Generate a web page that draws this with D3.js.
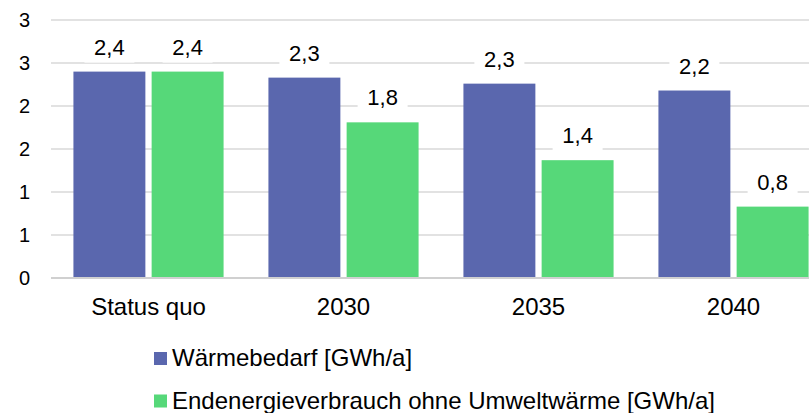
<!DOCTYPE html>
<html lang="de">
<head>
<meta charset="UTF-8" />
<title>Wärmebedarf</title>
<style>
  body { margin: 0; background: #fff; }
  text { font-family: "Liberation Sans", Arial, sans-serif; fill: #000; }
</style>
</head>
<body>
<svg width="809" height="413"></svg>
<script src="https://cdnjs.cloudflare.com/ajax/libs/d3/7.8.5/d3.min.js"></script>
<script>
  // data
  var categories = ["Status quo", "2030", "2035", "2040"];
  var waermebedarf = [2.4, 2.33, 2.26, 2.18];
  var endenergie = [2.4, 1.81, 1.37, 0.83];
  var seriesNames = ["Wärmebedarf [GWh/a]", "Endenergieverbrauch ohne Umweltwärme [GWh/a]"];
  var seriesColors = ["#5a67ae", "#56d879"];
  var yTicks = [0, 0.5, 1, 1.5, 2, 2.5, 3];

  var svg = d3.select("svg");

  var x = d3.scaleBand().domain(categories).range([51, 831]).paddingInner(0.23).paddingOuter(0.115);
  var y = d3.scaleLinear().domain([0, 3]).range([278, 20]);
  var x1 = d3.scaleBand().domain([0, 1]).range([0, x.bandwidth()]).paddingInner(0.08);

  // gridlines
  svg.append("g")
    .selectAll("line")
    .data(yTicks.filter(function (d) { return d > 0; }))
    .enter()
    .append("line")
    .attr("x1", 51)
    .attr("x2", 809)
    .attr("y1", function (d) { return y(d); })
    .attr("y2", function (d) { return y(d); })
    .attr("stroke", "#d9d9d9")
    .attr("stroke-width", 1.5);

  // y labels (Excel rounds to whole numbers)
  svg.append("g")
    .selectAll("text")
    .data(yTicks)
    .enter()
    .append("text")
    .attr("x", 30)
    .attr("y", function (d) { return y(d) + 7; })
    .attr("text-anchor", "end")
    .attr("font-size", 20)
    .text(function (d) { return d3.format(".0f")(d); });

  var rows = categories.map(function (c, i) {
    return { cat: c, vals: [waermebedarf[i], endenergie[i]] };
  });

  var groups = svg.append("g")
    .selectAll("g")
    .data(rows)
    .enter()
    .append("g")
    .attr("transform", function (d) { return "translate(" + x(d.cat) + ",0)"; });

  groups.selectAll("rect")
    .data(function (d) { return d.vals.map(function (v, k) { return { k: k, v: v }; }); })
    .enter()
    .append("rect")
    .attr("x", function (d) { return x1(d.k); })
    .attr("width", x1.bandwidth())
    .attr("y", function (d) { return y(d.v); })
    .attr("height", function (d) { return y(0) - y(d.v); })
    .attr("fill", function (d) { return seriesColors[d.k]; });

  // data labels with white box
  var fmt = function (v) { return d3.format(".1f")(v).replace(".", ","); };
  var labels = groups.selectAll("g.lab")
    .data(function (d) { return d.vals.map(function (v, k) { return { k: k, v: v }; }); })
    .enter()
    .append("g")
    .attr("class", "lab")
    .attr("transform", function (d) {
      return "translate(" + (x1(d.k) + x1.bandwidth() / 2) + "," + (y(d.v) - 17) + ")";
    });
  labels.append("rect")
    .attr("x", -25)
    .attr("y", -22)
    .attr("width", 50)
    .attr("height", 30)
    .attr("fill", "#fff");
  labels.append("text")
    .attr("text-anchor", "middle")
    .attr("font-size", 22)
    .text(function (d) { return fmt(d.v); });

  // x axis line
  svg.append("line")
    .attr("x1", 51)
    .attr("x2", 809)
    .attr("y1", y(0))
    .attr("y2", y(0))
    .attr("stroke", "#d0d0d0")
    .attr("stroke-width", 2);

  svg.append("g")
    .selectAll("text")
    .data(categories)
    .enter()
    .append("text")
    .attr("x", function (d) { return x(d) + x.bandwidth() / 2; })
    .attr("y", 315)
    .attr("text-anchor", "middle")
    .attr("font-size", 24)
    .text(function (d) { return d; });

  // legend
  var legend = svg.append("g")
    .selectAll("g")
    .data(seriesNames)
    .enter()
    .append("g")
    .attr("transform", function (d, i) { return "translate(154," + (352 + i * 42.5) + ")"; });
  legend.append("rect")
    .attr("width", 13)
    .attr("height", 13)
    .attr("fill", function (d, i) { return seriesColors[i]; });
  legend.append("text")
    .attr("x", 18)
    .attr("y", 14)
    .attr("font-size", 24)
    .text(function (d) { return d; });
</script>
</body>
</html>
